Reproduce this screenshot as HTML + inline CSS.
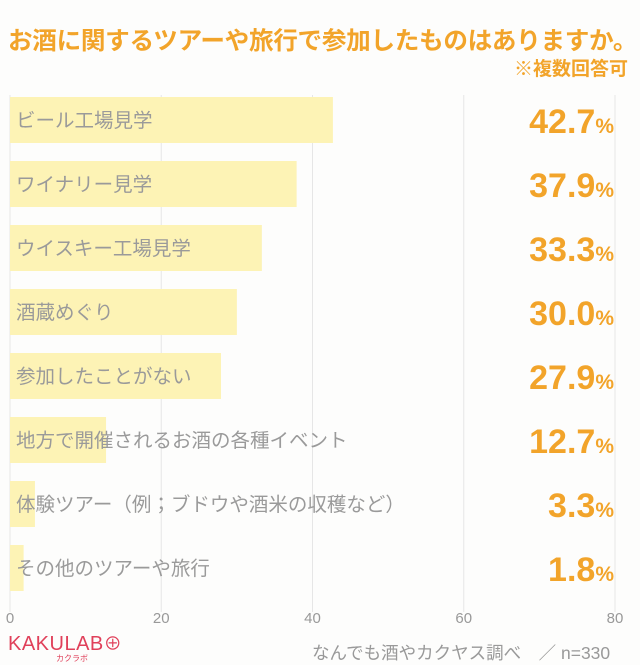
<!DOCTYPE html>
<html><head><meta charset="utf-8"><style>
body{margin:0;width:640px;height:664px;background:#fdfdfc;font-family:"Liberation Sans","Noto Sans CJK JP",sans-serif;overflow:hidden;position:relative}
.t{position:absolute;white-space:nowrap}
</style></head><body>
<div class="t" style="left:8px;top:21px;font-size:24.6px;font-weight:bold;color:#f2a42a;letter-spacing:-0.3px">お酒に関するツアーや旅行で参加したものはありますか。</div>
<div class="t" style="right:12px;top:54px;font-size:19px;font-weight:bold;color:#f2a42a">※複数回答可</div>
<svg id="c" width="640" height="664" style="position:absolute;left:0;top:0"></svg>
<div class="t" style="left:8px;top:630px;font-size:20px;color:#e0405a;letter-spacing:0.5px">KAKULAB<span style="font-size:18px">⊕</span></div>
<div class="t" style="left:56px;top:653px;font-size:8px;color:#e0405a">カクラボ</div>
<div class="t" style="left:312px;top:640px;font-size:17.5px;color:#999">なんでも酒やカクヤス調べ　／ n=330</div>
<script>
const categories=["ビール工場見学","ワイナリー見学","ウイスキー工場見学","酒蔵めぐり","参加したことがない","地方で開催されるお酒の各種イベント","体験ツアー（例；ブドウや酒米の収穫など）","その他のツアーや旅行"];
const values=[42.7,37.9,33.3,30.0,27.9,12.7,3.3,1.8];
const ticks=[0,20,40,60,80];
const svg=document.getElementById('c');const NS='http://www.w3.org/2000/svg';
const x=v=>10+v*(605/80);
const y=i=>97+i*64;
function mk(t,a){const e=document.createElementNS(NS,t);for(const k in a)e.setAttribute(k,a[k]);svg.appendChild(e);return e;}
ticks.forEach(t=>{
 const l=mk('line',{x1:x(t),x2:x(t),y1:95,y2:612,stroke:'#e6e6e6','stroke-width':1});
 
 
 const tx=mk('text',{x:x(t),y:623,'text-anchor':'middle','font-size':15,fill:'#999','font-family':'Liberation Sans, sans-serif'});
 tx.textContent=t;
 
 
});
categories.forEach((c,i)=>{
 const r=mk('rect',{x:x(0),y:y(i),width:x(values[i])-x(0),height:46,fill:'#fdf3b5'});
 
 
 const t=mk('text',{x:16,y:y(i)+30,'font-size':19.5,fill:'#9a9a9a','font-family':'Liberation Sans, Noto Sans CJK JP, sans-serif'});
 t.textContent=c;
 
 
 const v=mk('text',{x:614,y:y(i)+36,'text-anchor':'end','font-size':34,'font-weight':'bold',fill:'#f2a42a','font-family':'Liberation Sans, sans-serif'});
 v.innerHTML=values[i].toFixed(1)+'<tspan font-size="21">%</tspan>';
 
 
});
</script>
</body></html>
